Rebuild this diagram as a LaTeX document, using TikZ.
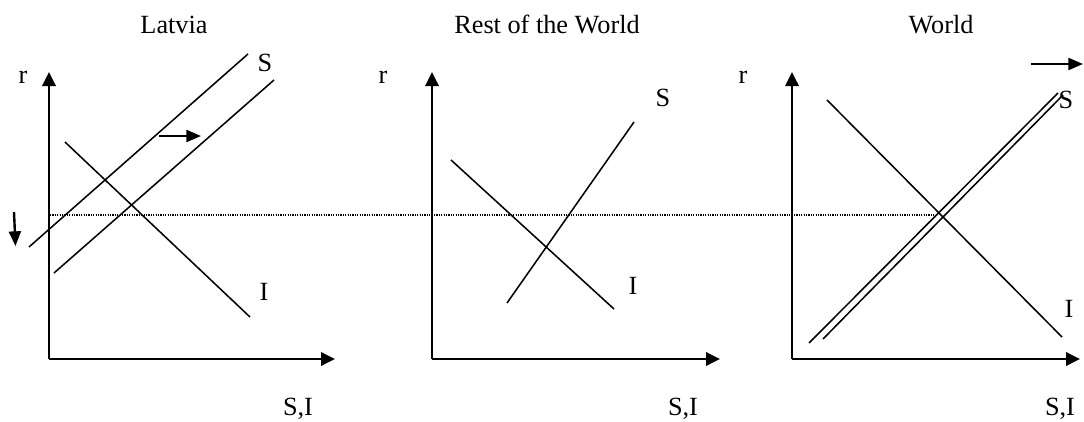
\documentclass[tikz,border=0pt]{standalone}
\usepackage{fontspec}
\setmainfont{Liberation Serif}
\usetikzlibrary{arrows.meta}
\tikzset{
  axis/.style={line width=1.8pt, -{Triangle[length=10.5pt,width=10pt]}},
  curve/.style={line width=1.15pt},
  shiftarrow/.style={line width=1.8pt, -{Triangle[length=11pt,width=9pt]}},
  lbl/.style={font=\fontsize{19.7}{23}\selectfont, inner sep=0pt, anchor=base},
  level/.style={line width=0.9pt, dash pattern=on 0.9pt off 0.9pt}
}
\begin{document}
\begin{tikzpicture}[x=0.75pt,y=-0.75pt]
  \useasboundingbox (0,0) rectangle (1084,421);

  % titles
  \node[lbl] (tlat) at (174,33) {Latvia};
  \node[lbl] (trow) at (547,33) {Rest of the World};
  \node[lbl] (twld) at (941,33) {World};

  % Latvia
  \coordinate (o1) at (49,359);
  \draw[axis] (o1) -- (49,72);
  \draw[axis] (o1) -- (335,359);
  \node[lbl] (r1) at (23,83) {r};
  \node[lbl] (x1) at (298,415) {S,I};
  \draw[curve] (29,247) -- (248,54);
  \draw[curve] (54,273) -- (274,80);
  \draw[curve] (65,142) -- (250,317);
  \node[lbl] (s1) at (265,71) {S};
  \node[lbl] (i1) at (264,300) {I};
  \draw[shiftarrow] (159,136) -- (201,136);
  \draw[shiftarrow] (14,212) -- (15.5,246);

  % Rest of the World
  \coordinate (o2) at (432,359);
  \draw[axis] (o2) -- (432,72);
  \draw[axis] (o2) -- (720,359);
  \node[lbl] (r2) at (383,83) {r};
  \node[lbl] (x2) at (683,415) {S,I};
  \draw[curve] (507,303) -- (634,122);
  \draw[curve] (451,160) -- (614,309);
  \node[lbl] (s2) at (663,106) {S};
  \node[lbl] (i2) at (633,294) {I};

  % World
  \coordinate (o3) at (792,359);
  \draw[axis] (o3) -- (792,72);
  \draw[axis] (o3) -- (1080,359);
  \node[lbl] (r3) at (743,83) {r};
  \node[lbl] (x3) at (1060,415) {S,I};
  \draw[curve] (809,343) -- (1058,93);
  \draw[curve] (823,339) -- (1063,95);
  \draw[curve] (827,100) -- (1062,337);
  \node[lbl] (s3) at (1066,108) {S};
  \node[lbl] (i3) at (1069,317) {I};
  \draw[shiftarrow] (1031,64) -- (1083,64);

  % common world interest rate
  \draw[level] (50,215) -- (937,215);
\end{tikzpicture}
\end{document}
